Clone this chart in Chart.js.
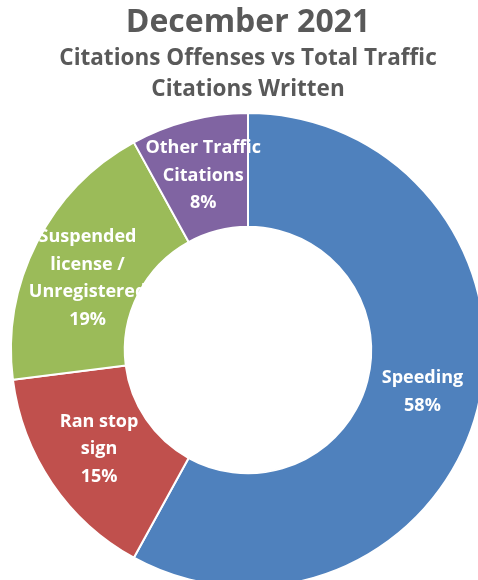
<!DOCTYPE html>
<html>
<head>
<meta charset="utf-8">
<script src="https://cdn.jsdelivr.net/npm/chart.js@4"></script>
<style>
  body { margin: 0; overflow: hidden; background: #fff; }
  #chart { position: absolute; left: 0; top: 0; }
</style>
</head>
<body>
<canvas id="chart" width="496" height="600"></canvas>
<script>
const categories = ['Speeding', 'Ran stop sign', 'Suspended license / Unregistered', 'Other Traffic Citations'];
const percents = [58, 15, 19, 8];
const labelLines = [
    ['Speeding'],
    ['Ran stop', 'sign'],
    ['Suspended', 'license /', 'Unregistered'],
    ['Other Traffic', 'Citations']
];
const colors = ['#4F81BD', '#C0504D', '#9BBB59', '#8064A2'];

// draws the white labels in the middle of each slice
const sliceLabels = {
    id: 'sliceLabels',
    afterDatasetsDraw(chart) {
        const ctx = chart.ctx;
        const meta = chart.getDatasetMeta(0);
        const nudge = [-3, -2, 10, 0]; // small vertical tweaks, like excel placed them
        ctx.save();
        ctx.fillStyle = '#fff';
        ctx.font = 'bold 18px "Open Sans"';
        ctx.textAlign = 'center';
        ctx.textBaseline = 'middle';
        meta.data.forEach((arc, i) => {
            const pos = arc.tooltipPosition();
            const lines = labelLines[i].concat([percents[i] + '%']);
            const lh = 27.5;
            let y = pos.y + nudge[i] - (lines.length - 1) * lh / 2;
            for (let line of lines) {
                ctx.fillText(line, pos.x, y);
                y += lh;
            }
        });
        ctx.restore();
    }
};

new Chart(document.getElementById('chart'), {
    type: 'doughnut',
    data: {
        labels: categories,
        datasets: [{
            data: percents,
            backgroundColor: colors,
            borderColor: '#fff',
            borderWidth: 2
        }]
    },
    options: {
        responsive: false,
        animation: false,
        cutout: '52%',
        layout: {
            padding: { left: 10, right: 10, top: 0, bottom: 12 }
        },
        plugins: {
            legend: { display: false },
            tooltip: { enabled: false },
            title: {
                display: true,
                text: 'December 2021',
                color: '#595959',
                font: { family: 'Open Sans', size: 32, weight: 'bold', lineHeight: 1.15 },
                padding: { top: 4, bottom: 3 }
            },
            subtitle: {
                display: true,
                text: ['Citations Offenses vs Total Traffic', 'Citations Written'],
                color: '#595959',
                font: { family: 'Open Sans', size: 22.5, weight: 'bold', lineHeight: 1.35 },
                padding: { top: 0, bottom: 7.5 }
            }
        }
    },
    plugins: [sliceLabels]
});
</script>
</body>
</html>
